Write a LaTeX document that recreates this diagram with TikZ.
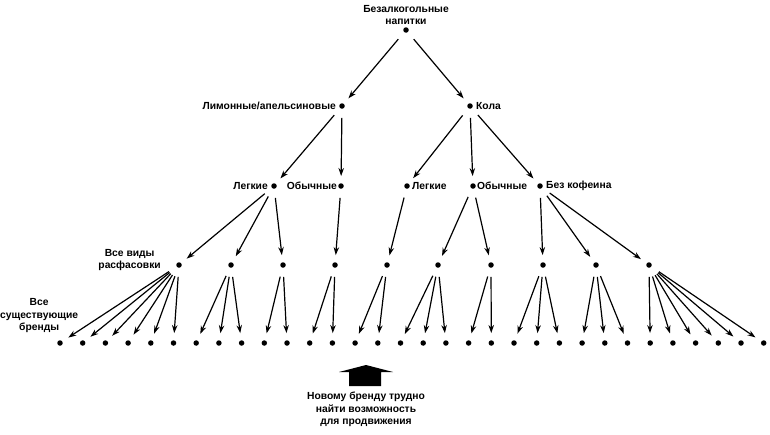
\documentclass[tikz,border=0pt]{standalone}
\usepackage{fontspec}
\setmainfont{Liberation Sans}
\usetikzlibrary{arrows.meta}
\begin{document}
\begin{tikzpicture}[x=1pt,y=-1pt,
  dot/.style={circle,fill=black,inner sep=0pt,minimum size=5.5pt},
  lab/.style={font=\fontsize{10.3}{12.5}\selectfont\bfseries,align=center,inner sep=1pt},
  arr/.style={-{Stealth[length=8pt,width=5.5pt]},line width=1.2pt,shorten <=9pt,shorten >=7pt}]
\useasboundingbox (0,0) rectangle (770,434);
% root and level 1
\node[dot] (r) at (406,30) {};
\node[lab,above=1pt] at (r.north) {Безалкогольные\\напитки};
\node[dot] (l1a) at (342,106) {};
\node[lab,left=5pt] at (l1a) {Лимонные/апельсиновые};
\node[dot] (l1b) at (470,106) {};
\node[lab,right=5pt] at (l1b) {Кола};
% level 2
\node[dot] (a) at (274,186) {};
\node[lab,left=5pt] at (a) {Легкие};
\node[dot] (b) at (341,186) {};
\node[lab,left=3pt] at (b) {Обычные};
\node[dot] (c) at (407,186) {};
\node[lab,right=4pt] at (c) {Легкие};
\node[dot] (d) at (473,186) {};
\node[lab,right=3pt] at (d) {Обычные};
\node[dot] (e) at (540,186) {};
\node[lab,right=5pt] at (e) {Без кофеина};
% level 3
\foreach \n/\x in {0/179,1/231,2/283,3/335,4/387,5/438,6/491,7/543,8/596,9/649}
  \node[dot] (m\n) at (\x,265) {};
\node[lab,anchor=east] at (162,260) {Все виды\\расфасовки};
\node[lab,anchor=west,inner sep=0pt] at (0,316) {Все\\существующие\\бренды};
% bottom
\foreach \i in {0,...,31}
  \node[dot] (b\i) at ({60+22.7*\i},343) {};
% edges
\draw[arr] (r) -- (l1a);
\draw[arr] (r) -- (l1b);
\foreach \t in {a,b} \draw[arr] (l1a) -- (\t);
\foreach \t in {c,d,e} \draw[arr] (l1b) -- (\t);
\foreach \t in {0,1,2} \draw[arr] (a) -- (m\t);
\draw[arr] (b) -- (m3);
\draw[arr] (c) -- (m4);
\foreach \t in {5,6} \draw[arr] (d) -- (m\t);
\foreach \t in {7,8,9} \draw[arr] (e) -- (m\t);
\foreach \p/\from/\to in {0/0/5,1/6/8,2/9/10,3/11/12,4/13/14,5/15/17,6/18/19,7/20/22,8/23/25,9/26/31}
  \foreach \t in {\from,...,\to} \draw[arr] (m\p) -- (b\t);
% big arrow
\fill (366,365) -- (393,372) -- (381,372) -- (381,386) -- (349,386) -- (349,372) -- (339,372) -- cycle;
\node[lab,anchor=north] (txt) at (366,391) {Новому бренду трудно\\найти возможность\\для продвижения};
\end{tikzpicture}
\end{document}
